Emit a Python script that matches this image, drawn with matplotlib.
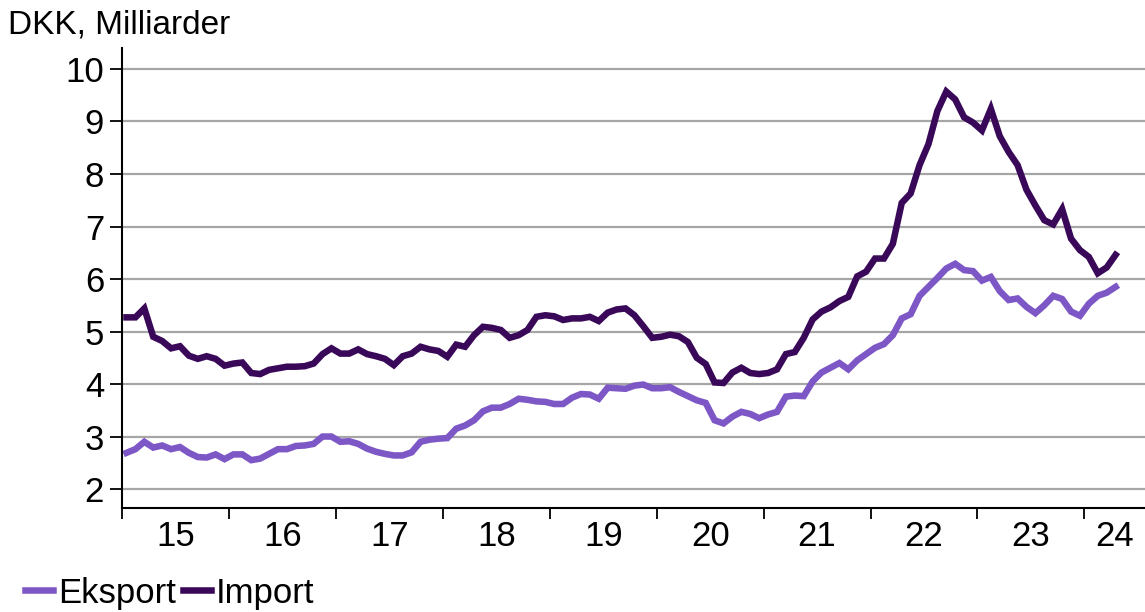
import matplotlib
matplotlib.use("Agg")
import matplotlib.pyplot as plt
import pandas as pd

plt.rcParams['font.family'] = ['Liberation Sans', 'DejaVu Sans']

# Månedlige værdier, jan 2015 - apr 2024 (mia. DKK)
months = pd.date_range('2015-01-01', '2024-04-01', freq='MS')

eksport = [2.69, 2.76, 2.90, 2.79, 2.83, 2.76, 2.80, 2.69, 2.61, 2.60, 2.66, 2.57,
           2.66, 2.66, 2.55, 2.58, 2.67, 2.76, 2.76, 2.82, 2.83, 2.86, 3.00, 3.00,
           2.90, 2.91, 2.86, 2.77, 2.71, 2.67, 2.64, 2.64, 2.70, 2.90, 2.94, 2.96,
           2.97, 3.15, 3.21, 3.31, 3.48, 3.55, 3.55, 3.62, 3.72, 3.70, 3.67, 3.66,
           3.62, 3.62, 3.74, 3.81, 3.80, 3.72, 3.93, 3.92, 3.91, 3.97, 3.99, 3.92,
           3.92, 3.94, 3.85, 3.77, 3.69, 3.64, 3.31, 3.25, 3.38, 3.47, 3.43, 3.35,
           3.42, 3.47, 3.76, 3.78, 3.77, 4.05, 4.22, 4.31, 4.40, 4.28, 4.45, 4.57,
           4.69, 4.76, 4.93, 5.25, 5.33, 5.68, 5.85, 6.02, 6.20, 6.29, 6.17, 6.15,
           5.97, 6.04, 5.77, 5.60, 5.63, 5.47, 5.35, 5.50, 5.68, 5.62, 5.38, 5.30,
           5.53, 5.68, 5.74, 5.85]

import_ = [5.27, 5.27, 5.44, 4.90, 4.82, 4.68, 4.72, 4.54, 4.48, 4.53, 4.48, 4.35,
           4.39, 4.41, 4.21, 4.19, 4.27, 4.30, 4.33, 4.33, 4.34, 4.39, 4.57, 4.68,
           4.58, 4.58, 4.66, 4.57, 4.53, 4.48, 4.36, 4.53, 4.58, 4.71, 4.66, 4.63,
           4.52, 4.75, 4.71, 4.93, 5.09, 5.07, 5.03, 4.88, 4.93, 5.03, 5.28, 5.31,
           5.29, 5.22, 5.25, 5.25, 5.28, 5.20, 5.36, 5.42, 5.44, 5.31, 5.10, 4.88,
           4.90, 4.94, 4.91, 4.80, 4.50, 4.38, 4.03, 4.02, 4.22, 4.31, 4.21, 4.19,
           4.21, 4.28, 4.57, 4.61, 4.88, 5.23, 5.38, 5.46, 5.58, 5.66, 6.05, 6.14,
           6.39, 6.39, 6.67, 7.45, 7.63, 8.17, 8.57, 9.20, 9.57, 9.42, 9.08, 8.98,
           8.83, 9.24, 8.72, 8.42, 8.17, 7.70, 7.40, 7.12, 7.04, 7.33, 6.77, 6.55,
           6.42, 6.11, 6.22, 6.46]

year_labels = ['15', '16', '17', '18', '19', '20', '21', '22', '23', '24']

x = list(range(len(months)))

fig = plt.figure(figsize=(11.45, 6.12), dpi=100)
ax = fig.add_axes([0.1066, 0.170, 0.8934, 0.7516])

ax.plot(x, eksport, color='#7E57C6', lw=4.7, label='Eksport', solid_joinstyle='miter')
ax.plot(x, import_, color='#3A0858', lw=4.7, label='Import', solid_joinstyle='miter')

ax.set_ylim(1.64, 10.4)
ax.set_xlim(-0.5, 114.3)
ax.set_yticks(range(2, 11))
ax.grid(axis='y', color='#a6a6a6', lw=1.6)
ax.set_axisbelow(True)

# årsgrænser som store ticks, årstal i midten
starts = [i - 0.5 for i, m in enumerate(months) if m.month == 1]
ax.set_xticks(starts)
ax.set_xticklabels([])
mids = [s + 6 for s in starts[:-1]] + [(starts[-1] + 114.3) / 2]
ax.set_xticks(mids, minor=True)
ax.set_xticklabels(year_labels, minor=True)
ax.tick_params(axis='x', which='minor', length=0, labelsize=25, pad=9)
ax.tick_params(axis='x', which='major', length=8, width=1.3, direction='out')
ax.tick_params(axis='y', length=9, width=1.3, labelsize=25, pad=4)

for s in ['top', 'right']:
    ax.spines[s].set_visible(False)
for s in ['left', 'bottom']:
    ax.spines[s].set_linewidth(1.5)

fig.text(0.007, 0.985, 'DKK, Milliarder', fontsize=24, va='top', ha='left')

fig.legend(loc='lower left', bbox_to_anchor=(0.022, 0.004), ncol=2, frameon=False,
           fontsize=25, handlelength=0.8, handletextpad=0.15, columnspacing=0.2,
           borderaxespad=0, borderpad=0)

fig.savefig('out.png', dpi=100)
